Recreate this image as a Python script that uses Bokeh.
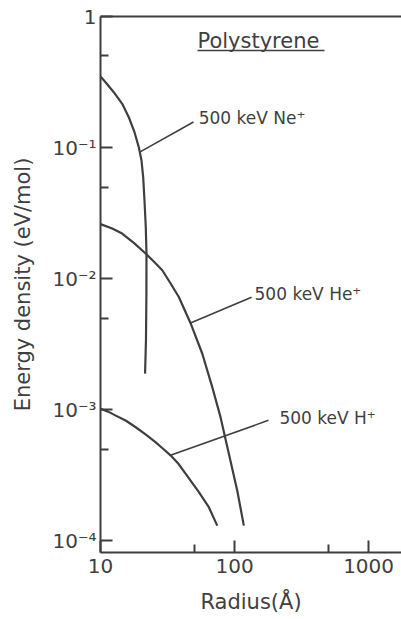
from bokeh.plotting import figure
from bokeh.models import FixedTicker, LogAxis
from bokeh.embed import file_html
from bokeh.resources import INLINE
from bokeh.core.properties import value

# Radial energy-density profiles around 500 keV ion tracks in polystyrene
# radius in Å, energy density in eV/mol
ne_radius = [10, 10.9, 12.56, 14.52, 16.26, 17.93, 19.31, 20.23, 20.82, 21.29,
             21.77, 22.03, 22.0, 21.84, 21.5]
ne_density = [0.3485, 0.3153, 0.2647, 0.2158, 0.1705, 0.1311, 0.1007, 0.0797,
              0.0594, 0.0395, 0.0247, 0.01548, 0.0077, 0.0034, 0.00189]

he_radius = [10, 12.23, 14.5, 17.73, 21.7, 24.98, 28.9, 33.28, 38.4, 46.9, 57.4,
             68.2, 78.6, 90.7, 104.7, 117.3]
he_density = [0.0261, 0.02415, 0.0221, 0.01878, 0.01557, 0.01352, 0.01161,
              0.00924, 0.00726, 0.0046, 0.00269, 0.00149, 0.00088, 0.000463,
              0.000243, 0.000131]

h_radius = [10, 11.4, 12.9, 15.4, 18.2, 21.7, 25.7, 29.3, 33.3, 38.0, 43.1, 54.2,
            64.3, 74.3]
h_density = [0.00102, 0.00097, 0.000908, 0.00083, 0.00074, 0.00065, 0.000568,
             0.000505, 0.00045, 0.00039, 0.000326, 0.000236, 0.000181, 0.000131]

# curve labels and their leader lines
curve_labels = ["500 keV Ne⁺", "500 keV He⁺", "500 keV H⁺"]
label_x = [54, 141, 216]
label_y = [0.167, 0.0077, 0.00086]
leader_x0 = [19.6, 46.9, 33.3]
leader_y0 = [0.0924, 0.0046, 0.00045]
leader_x1 = [49.4, 134, 179]
leader_y1 = [0.157, 0.00722, 0.000832]

material = "Polystyrene"
material_x = [52.9]
material_y = [0.656]
underline_x = [52.9, 469]
underline_y = [0.55, 0.55]

# axis ticks
x_ticks = [10, 100, 1000]
x_minor = [50, 500]
x_tick_labels = ["10", "100", "1000"]
y_ticks = [1e-4, 1e-3, 1e-2, 1e-1, 1]
y_minor = [5e-4, 5e-3, 5e-2, 0.5]
y_tick_labels = ["10⁻⁴", "10⁻³", "10⁻²", "10⁻¹", "1"]

INK = "#3f3f3f"
FONT = "DejaVu Sans"

p = figure(width=401, height=619, x_axis_type="log", y_axis_type="log",
           x_range=(10, 1760), y_range=(8.17e-5, 1),
           output_backend="svg", toolbar_location=None,
           min_border_left=100, min_border_right=0,
           min_border_top=16, min_border_bottom=67)
p.title.visible = False
p.grid.visible = False
p.outline_line_color = None
p.background_fill_color = "white"
p.border_fill_color = "white"

xa = p.below[0]
ya = p.left[0]
xa.ticker = FixedTicker(ticks=x_ticks, minor_ticks=x_minor)
ya.ticker = FixedTicker(ticks=y_ticks, minor_ticks=y_minor)
xa.major_label_overrides = {float(t): s for t, s in zip(x_ticks, x_tick_labels)}
ya.major_label_overrides = {float(t): s for t, s in zip(y_ticks, y_tick_labels)}

for ax in (xa, ya):
    ax.axis_line_width = 2
    ax.axis_line_color = INK
    ax.major_tick_in = 12
    ax.major_tick_out = 0
    ax.minor_tick_in = 8
    ax.minor_tick_out = 0
    ax.major_tick_line_width = 2
    ax.minor_tick_line_width = 2
    ax.major_tick_line_color = INK
    ax.minor_tick_line_color = INK
    ax.major_label_text_font = FONT
    ax.major_label_text_font_size = "20px"
    ax.major_label_text_color = INK
    ax.axis_label_text_font = FONT
    ax.axis_label_text_font_size = "21px"
    ax.axis_label_text_font_style = "normal"
    ax.axis_label_text_color = INK

xa.axis_label = "Radius(Å)"
xa.major_label_standoff = 6
xa.axis_label_standoff = 14
ya.axis_label = "Energy density (eV/mol)"
ya.major_label_standoff = 4
ya.axis_label_standoff = 14

# frame line along the top edge
top = LogAxis(ticker=FixedTicker(ticks=[]), axis_line_width=2, axis_line_color=INK,
              major_tick_out=0, minor_tick_out=0, major_tick_in=0, minor_tick_in=0,
              major_tick_line_color=None, minor_tick_line_color=None,
              major_label_text_font_size="0px")
p.add_layout(top, "above")

for xs, ys in ((ne_radius, ne_density), (he_radius, he_density), (h_radius, h_density)):
    p.line(xs, ys, line_color=INK, line_width=2.2, line_join="round")

p.segment(x0=leader_x0, y0=leader_y0, x1=leader_x1, y1=leader_y1,
          line_color=INK, line_width=1.6)

p.text(x=label_x, y=label_y, text=curve_labels, text_font=value(FONT),
       text_font_size="17px", text_baseline="middle", text_align="left",
       text_color=INK)

p.text(x=material_x, y=material_y, text=[material], text_font=value(FONT),
       text_font_size="21px", text_baseline="middle", text_align="left",
       text_color=INK)
p.line(underline_x, underline_y, line_color=INK, line_width=1.6)

open("out.html", "w").write(file_html(p, INLINE))
